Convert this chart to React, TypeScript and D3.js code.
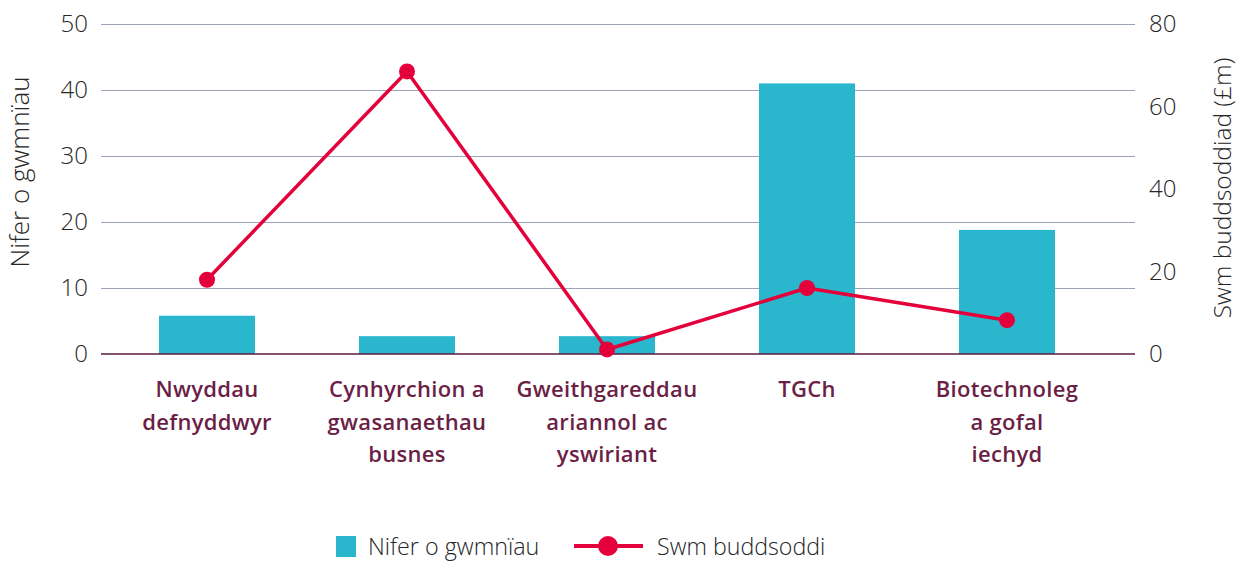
import React, { useEffect, useRef } from 'react';
import * as d3 from 'd3';

// categories and values
const categories = [
  ['Nwyddau', 'defnyddwyr'],
  ['Cynhyrchion a', 'gwasanaethau', 'busnes'],
  ['Gweithgareddau', 'ariannol ac', 'yswiriant'],
  ['TGCh'],
  ['Biotechnoleg', 'a gofal', 'iechyd'],
];
const companyCounts = [5.8, 2.7, 2.7, 41, 18.8];
const investment = [18, 68.5, 1.1, 16, 8.2];
const leftTicks = [0, 10, 20, 30, 40, 50];
const rightTicks = [0, 20, 40, 60, 80];

const BAR = '#2ab7cd';
const LINE = '#e4003b';
const LABEL = '#6b1f47';
const INK = '#262626';
const FONT = '"Open Sans", Lato, sans-serif';

export default function App() {
  const ref = useRef<SVGSVGElement | null>(null);

  useEffect(() => {
    const svg = d3.select(ref.current);
    svg.selectAll('*').remove();

    const width = 1242;
    const height = 564;
    const margin = { top: 24, bottom: 210, gridLeft: 101, gridRight: 1135 };
    const y0 = height - margin.bottom;

    const keys = categories.map((c, i) => String(i));
    const x = d3.scaleBand().domain(keys).range([107, 1107]).paddingInner(0.52).paddingOuter(0.26);
    const yLeft = d3.scaleLinear().domain([0, 50]).range([y0, margin.top]);
    const yRight = d3.scaleLinear().domain([0, 80]).range([y0, margin.top]);

    svg.attr('width', width).attr('height', height);

    // gridlines
    svg.append('g')
      .selectAll('line')
      .data(leftTicks.filter(t => t > 0))
      .join('line')
      .attr('x1', margin.gridLeft)
      .attr('x2', margin.gridRight)
      .attr('y1', d => yLeft(d) + 0.5)
      .attr('y2', d => yLeft(d) + 0.5)
      .attr('stroke', '#9aa3b8')
      .attr('stroke-width', 1.2);

    // left axis
    const axL = svg.append('g')
      .attr('transform', 'translate(' + 88 + ',0)')
      .call(d3.axisLeft(yLeft).tickValues(leftTicks).tickSize(0).tickPadding(0));
    axL.select('.domain').remove();
    axL.selectAll('text')
      .attr('font-family', FONT)
      .attr('font-weight', 300)
      .attr('font-size', 24)
      .attr('fill', INK);

    // right axis
    const axR = svg.append('g')
      .attr('transform', 'translate(' + 1149 + ',0)')
      .call(d3.axisRight(yRight).tickValues(rightTicks).tickSize(0).tickPadding(0));
    axR.select('.domain').remove();
    axR.selectAll('text')
      .attr('font-family', FONT)
      .attr('font-weight', 300)
      .attr('font-size', 24)
      .attr('fill', INK);

    // axis titles
    svg.append('text')
      .attr('transform', 'translate(29,172) rotate(-90)')
      .attr('text-anchor', 'middle')
      .attr('font-family', FONT)
      .attr('font-weight', 300)
      .attr('font-size', 26)
      .attr('fill', INK)
      .text('Nifer o gwmnïau');
    svg.append('text')
      .attr('transform', 'translate(1231,188) rotate(-90)')
      .attr('text-anchor', 'middle')
      .attr('font-family', FONT)
      .attr('font-weight', 300)
      .attr('font-size', 24.5)
      .attr('fill', INK)
      .text('Swm buddsoddiad (£m)');

    // bars
    svg.append('g')
      .selectAll('rect')
      .data(companyCounts)
      .join('rect')
      .attr('x', (d, i) => x(keys[i]) as number)
      .attr('width', x.bandwidth())
      .attr('y', d => yLeft(d))
      .attr('height', d => y0 - yLeft(d))
      .attr('fill', BAR);

    // zero line
    svg.append('line')
      .attr('x1', margin.gridLeft)
      .attr('x2', margin.gridRight)
      .attr('y1', y0)
      .attr('y2', y0)
      .attr('stroke', '#5e1a3e')
      .attr('stroke-width', 1.5);

    // line series
    const cx = (i: number) => (x(keys[i]) as number) + x.bandwidth() / 2;
    svg.append('path')
      .datum(investment)
      .attr('fill', 'none')
      .attr('stroke', LINE)
      .attr('stroke-width', 3.5)
      .attr('stroke-linejoin', 'round')
      .attr('d', d3.line<number>()
        .x((d, i) => cx(i))
        .y(d => yRight(d)));
    svg.append('g')
      .selectAll('circle')
      .data(investment)
      .join('circle')
      .attr('cx', (d, i) => cx(i))
      .attr('cy', d => yRight(d))
      .attr('r', 8)
      .attr('fill', LINE);

    // category labels
    const lab = svg.append('g')
      .selectAll('text')
      .data(categories)
      .join('text')
      .attr('text-anchor', 'middle')
      .attr('font-family', FONT)
      .attr('font-weight', 600)
      .attr('font-size', 22)
      .attr('letter-spacing', 0.3)
      .attr('fill', LABEL);
    lab.selectAll('tspan')
      .data((d, i) => d.map(t => ({ t, i })))
      .join('tspan')
      .attr('x', d => cx(d.i))
      .attr('y', (d, j) => 397 + j * 32.5)
      .text(d => d.t);

    // legend
    const lg = svg.append('g');
    lg.append('rect')
      .attr('x', 336).attr('y', 536).attr('width', 20).attr('height', 21)
      .attr('fill', BAR);
    lg.append('text')
      .attr('x', 368).attr('y', 555)
      .attr('font-family', FONT).attr('font-weight', 300).attr('font-size', 23.3)
      .attr('fill', INK)
      .text('Nifer o gwmnïau');
    lg.append('line')
      .attr('x1', 574).attr('x2', 643).attr('y1', 546).attr('y2', 546)
      .attr('stroke', LINE).attr('stroke-width', 4);
    lg.append('circle')
      .attr('cx', 608).attr('cy', 546).attr('r', 10)
      .attr('fill', LINE);
    lg.append('text')
      .attr('x', 657).attr('y', 555)
      .attr('font-family', FONT).attr('font-weight', 300).attr('font-size', 23.2)
      .attr('fill', INK)
      .text('Swm buddsoddi');
  }, []);

  return (
    <svg ref={ref} style={{ position: 'absolute', left: 0, top: 0, background: '#fff' }} />
  );
}
